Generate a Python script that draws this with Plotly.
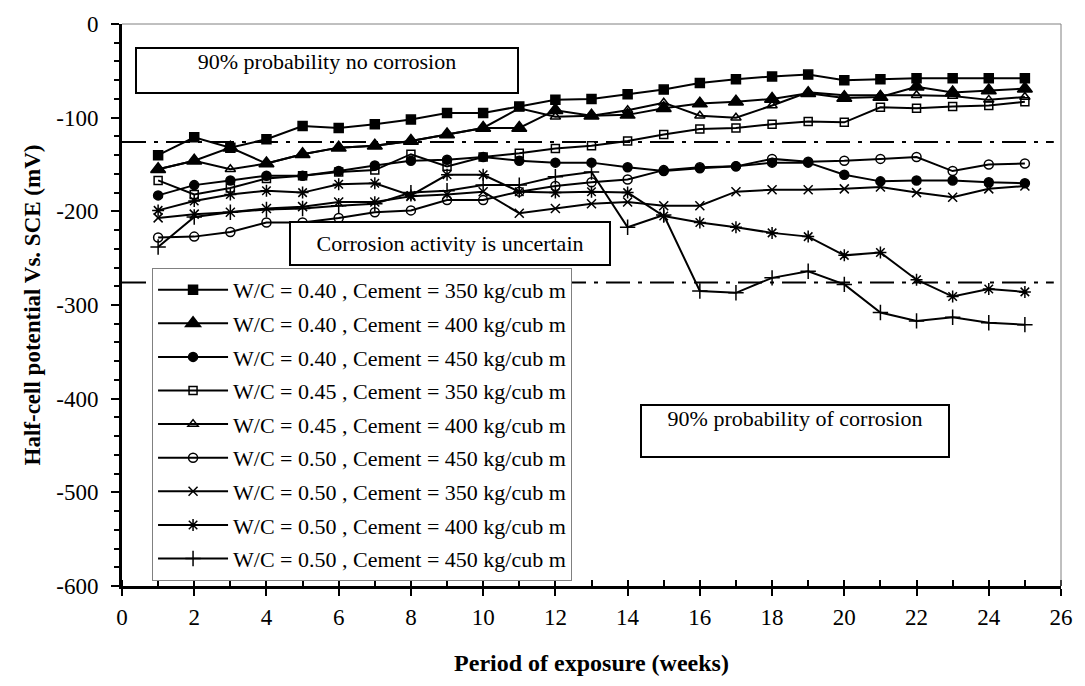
import plotly.graph_objects as go

weeks = list(range(1, 26))

names = [
    "W/C = 0.40 , Cement = 350 kg/cub m",
    "W/C = 0.40 , Cement = 400 kg/cub m",
    "W/C = 0.40 , Cement = 450 kg/cub m",
    "W/C = 0.45 , Cement = 350 kg/cub m",
    "W/C = 0.45 , Cement = 400 kg/cub m",
    "W/C = 0.50 , Cement = 450 kg/cub m",
    "W/C = 0.50 , Cement = 350 kg/cub m",
    "W/C = 0.50 , Cement = 400 kg/cub m",
    "W/C = 0.50 , Cement = 450 kg/cub m",
]

wc040_c350 = [-140, -121, -132, -123, -109, -111, -107, -102, -95, -95, -88, -81, -80,
              -75, -70, -63, -59, -56, -54, -60, -59, -58, -58, -58, -58]
wc040_c400 = [-155, -146, -132, -149, -139, -132, -130, -125, -118, -111, -111, -92, -98,
              -97, -90, -85, -83, -80, -74, -79, -78, -67, -73, -71, -69]
wc040_c450 = [-183, -172, -167, -162, -162, -157, -151, -146, -145, -142, -146, -148, -148,
              -153, -157, -154, -152, -148, -148, -161, -168, -167, -167, -169, -170]
wc045_c350 = [-167, -182, -175, -165, -162, -158, -156, -139, -152, -142, -138, -133, -130,
              -125, -118, -112, -111, -107, -104, -105, -89, -90, -88, -87, -83]
wc045_c400 = [-155, -146, -155, -149, -139, -132, -130, -125, -118, -111, -90, -99, -98,
              -92, -84, -98, -100, -87, -73, -76, -76, -76, -77, -81, -78]
wc050_c450a = [-228, -227, -222, -212, -212, -207, -201, -199, -188, -188, -179, -173, -169,
               -166, -156, -153, -152, -144, -147, -146, -144, -142, -157, -150, -149]
wc050_c350 = [-207, -203, -201, -197, -195, -190, -190, -184, -182, -179, -202, -197, -192,
              -190, -194, -194, -179, -177, -177, -176, -174, -180, -185, -176, -173]
wc050_c400 = [-199, -189, -182, -178, -180, -171, -170, -183, -161, -161, -179, -180, -179,
              -180, -205, -212, -217, -223, -227, -247, -244, -273, -291, -283, -286]
wc050_c450b = [-238, -206, -201, -198, -197, -194, -192, -180, -178, -172, -172, -163, -158,
               -217, -204, -285, -287, -271, -264, -278, -308, -317, -313, -319, -321]

series = [wc040_c350, wc040_c400, wc040_c450, wc045_c350, wc045_c400,
          wc050_c450a, wc050_c350, wc050_c400, wc050_c450b]

symbols = ["square", "triangle-up", "circle", "square-open", "triangle-up-open",
           "circle-open", "x-thin-open", "asterisk-open", "cross-thin-open"]
sizes = [9, 13, 9, 8, 9, 9, 9, 10, 11]

x_ticks = list(range(0, 27, 2))
y_ticks = [0, -100, -200, -300, -400, -500, -600]
y_ticktext = ["0", "-100", "-200", "-300", "-400", "-500", "-600"]

threshold_low = -126
threshold_high = -276

FONT = "Liberation Serif, Times New Roman, serif"

fig = go.Figure()
for i, (nm, ys, sym, sz) in enumerate(zip(names, series, symbols, sizes)):
    fig.add_trace(go.Scatter(
        x=weeks, y=ys, name=nm, mode="lines+markers",
        line=dict(color="black", width=2),
        marker=dict(symbol=sym, size=sz, color="black",
                    line=dict(color="black", width=1.5)),
        legendgroup=f"g{i}",
    ))

for yv in (threshold_low, threshold_high):
    fig.add_shape(type="line", xref="x", yref="y", x0=0, x1=25.8, y0=yv, y1=yv,
                  line=dict(color="black", width=2, dash="24px,8px,4px,8px"), layer="above")

# thin frame on top/right
fig.add_shape(type="line", xref="paper", yref="paper", x0=0, x1=1, y0=1, y1=1,
              line=dict(color="#808080", width=1))
fig.add_shape(type="line", xref="paper", yref="paper", x0=1, x1=1, y0=0, y1=1,
              line=dict(color="#808080", width=1))

boxes = [
    ("90% probability no corrosion", 5.67, -49.5, 380, 43, "top"),
    ("Corrosion activity is uncertain", 9.08, -234.7, 318, 41, "middle"),
    ("90% probability of corrosion", 18.63, -434, 306, 50, "top"),
]
for txt, bx, by, w, h, va in boxes:
    fig.add_annotation(x=bx, y=by, xref="x", yref="y", text=txt, showarrow=False,
                       width=w, height=h, valign=va, bgcolor="white",
                       bordercolor="black", borderwidth=2, borderpad=0,
                       font=dict(family=FONT, size=22, color="black"))

fig.update_layout(
    width=1085, height=686,
    margin=dict(l=122, r=14, t=16, b=100),
    plot_bgcolor="white", paper_bgcolor="white",
    font=dict(family=FONT, size=23, color="black"),
    showlegend=True,
    legend=dict(x=0.032, y=0.566, xanchor="left", yanchor="top",
                bgcolor="white", bordercolor="#808080", borderwidth=1,
                font=dict(family=FONT, size=22, color="black"),
                itemwidth=70,
                traceorder="grouped", tracegroupgap=2),
    xaxis=dict(range=[0, 26], tickvals=x_ticks, showgrid=False, zeroline=False,
               showline=True, linecolor="black", linewidth=3,
               ticks="outside", ticklen=7, tickwidth=2, tickcolor="black",
               ticklabelstandoff=1,
               minor=dict(dtick=1, ticks="inside", ticklen=6, tickwidth=2, tickcolor="black"),
               title=dict(text="<b>Period of exposure (weeks)</b>", standoff=26,
                          font=dict(family=FONT, size=24))),
    yaxis=dict(range=[-600, 0], tickvals=y_ticks, ticktext=y_ticktext,
               showgrid=False, zeroline=False,
               showline=True, linecolor="black", linewidth=3,
               ticks="outside", ticklen=8, tickwidth=2, tickcolor="black",
               ticklabelstandoff=8,
               minor=dict(dtick=20, ticks="outside", ticklen=5, tickwidth=2, tickcolor="black"),
               title=dict(text="<b>Half-cell potential Vs. SCE (mV)</b>", standoff=10,
                          font=dict(family=FONT, size=23))),
)

fig.write_html("out.html")
